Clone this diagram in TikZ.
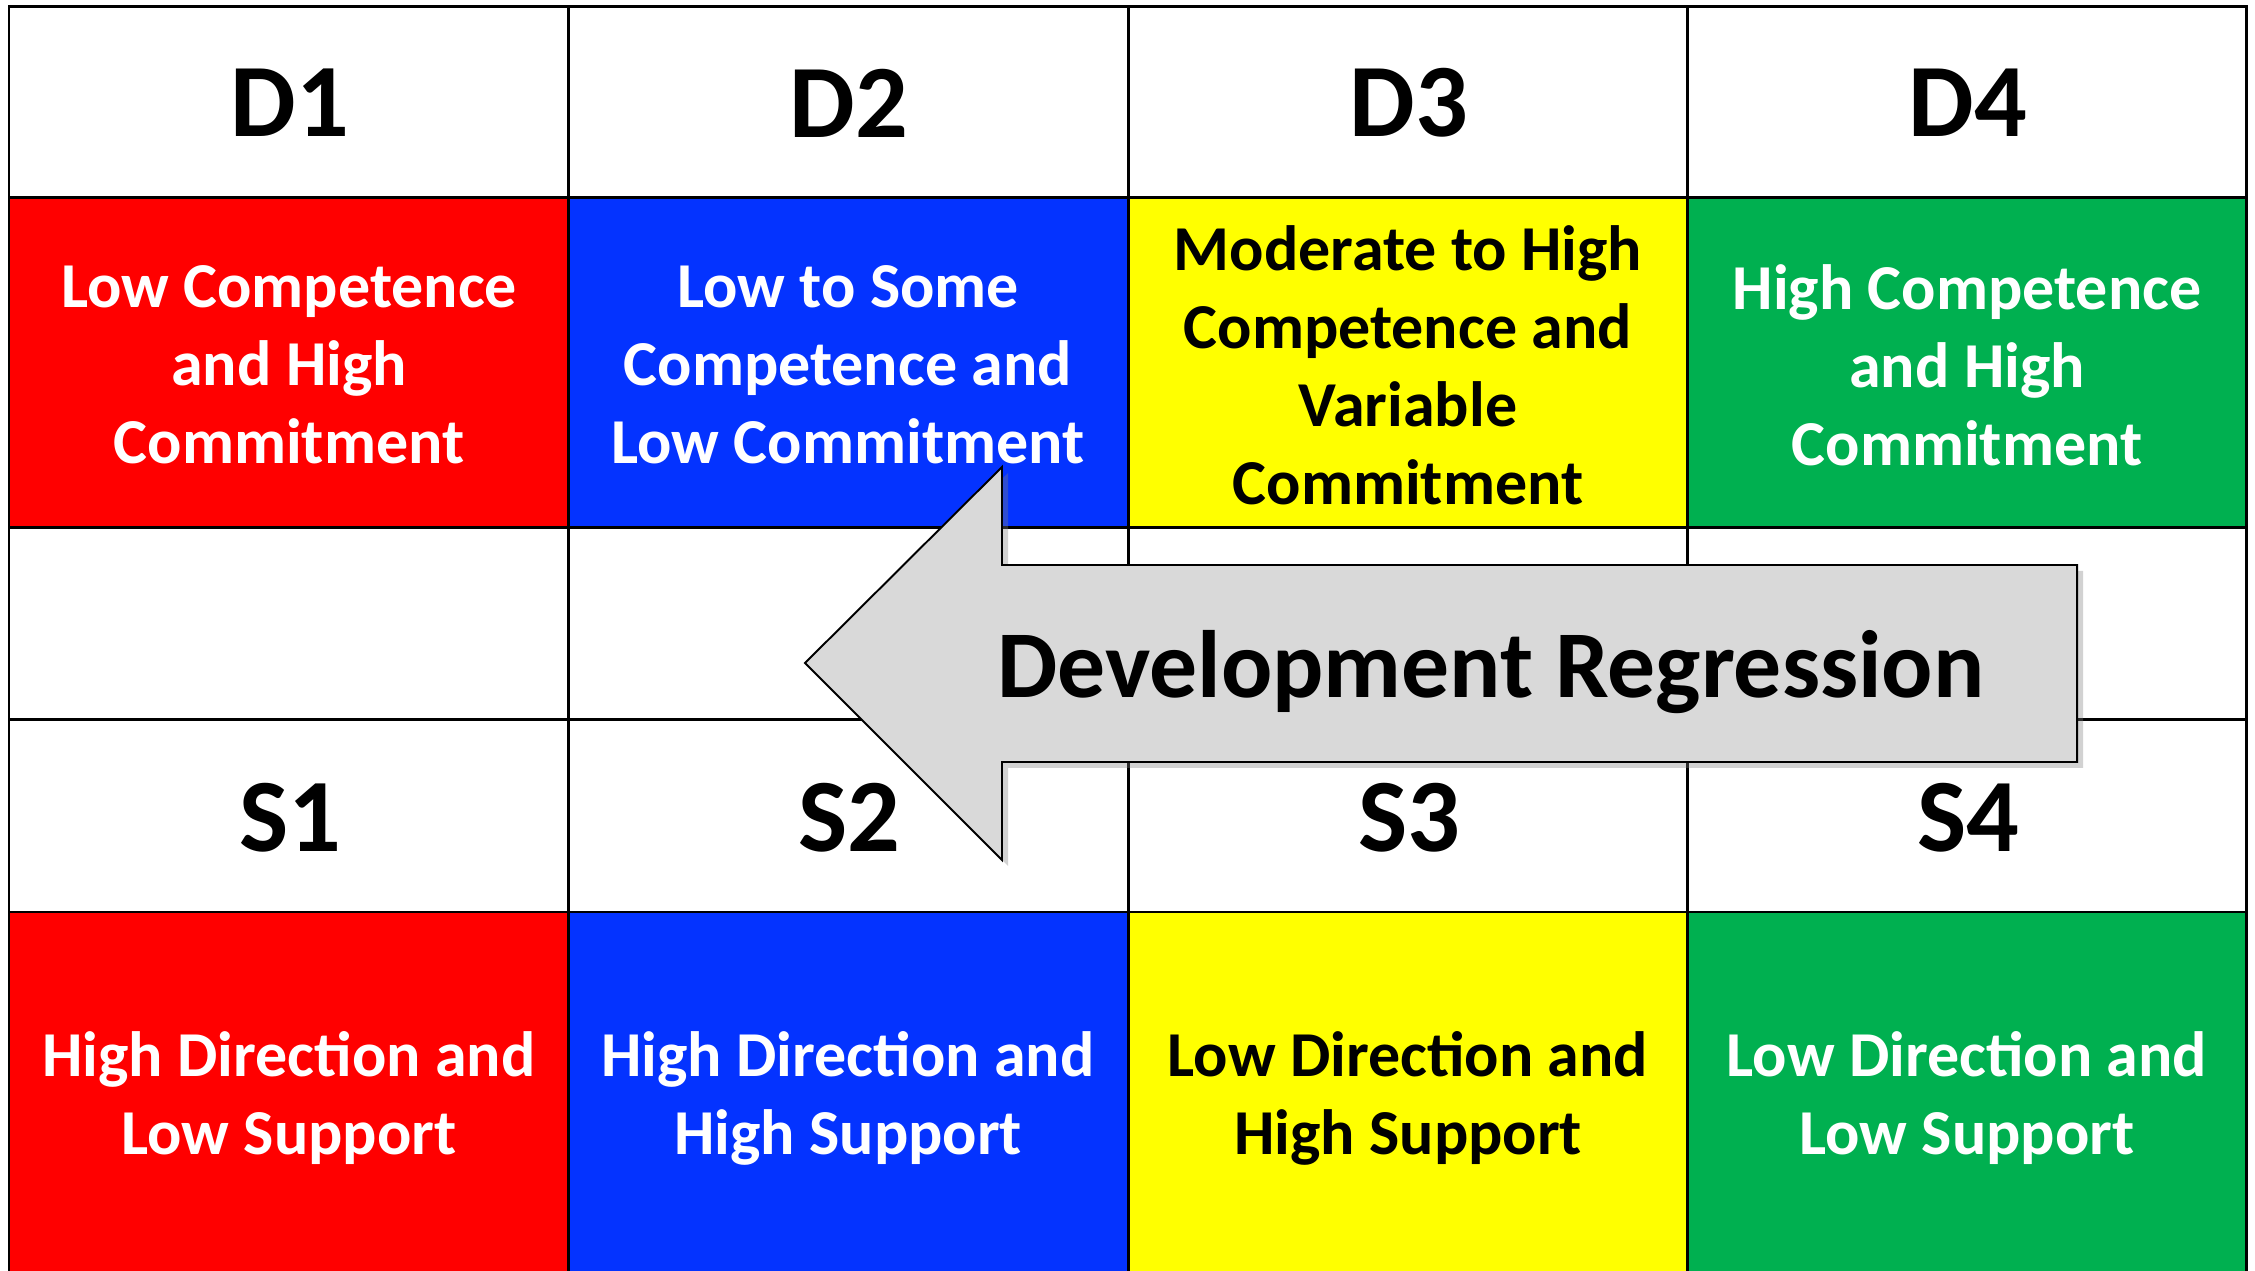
\documentclass[tikz,border=0pt]{standalone}
\usepackage{fontspec}
\setmainfont{Carlito}
\usetikzlibrary{shadows}
\definecolor{cred}{HTML}{FF0000}
\definecolor{cblue}{HTML}{0433FF}
\definecolor{cyellow}{HTML}{FFFF00}
\definecolor{cgreen}{HTML}{00B050}
\definecolor{carrow}{HTML}{D9D9D9}
\tikzset{
  gridline/.style={line width=0.85pt, black},
  bigtxt/.style={font=\bfseries\fontsize{29.6pt}{36pt}\selectfont, text=black, inner sep=0pt},
  celltxt/.style={font=\bfseries\fontsize{18.2pt}{22.2pt}\selectfont, align=center, inner sep=0pt},
  whitetxt/.style={celltxt, text=white},
  blacktxt/.style={celltxt, text=black},
  arrowtxt/.style={font=\bfseries\fontsize{27.2pt}{32pt}\selectfont, text=black, inner sep=0pt},
}
\begin{document}
\begin{tikzpicture}[x=0.01cm,y=-0.01cm]
\useasboundingbox (0,0) rectangle (2255,1271);
\clip (0,0) rectangle (2255,1271);
\fill[white] (0,0) rectangle (2255,1271);
% coloured cells
\fill[cred]    (9,198) rectangle (568,528);
\fill[cblue]   (568,198) rectangle (1128,528);
\fill[cyellow] (1128,198) rectangle (1687,528);
\fill[cgreen]  (1687,198) rectangle (2246,528);
\fill[cred]    (9,912) rectangle (568,1290);
\fill[cblue]   (568,912) rectangle (1128,1290);
\fill[cyellow] (1128,912) rectangle (1687,1290);
\fill[cgreen]  (1687,912) rectangle (2246,1290);
% grid
\draw[gridline] (9,1290) -- (9,7) -- (2246,7) -- (2246,1290);
\foreach \yy in {198,528,720,912} \draw[gridline] (9,\yy) -- (2246,\yy);
\foreach \xx in {568,1128,1687} \draw[gridline] (\xx,7) -- (\xx,1290);
% headers
\node[bigtxt] (d1) at (290,103) {D1};
\node[bigtxt] (d2) at (849,103) {D2};
\node[bigtxt] (d3) at (1409,103) {D3};
\node[bigtxt] (d4) at (1968,103) {D4};
\node[bigtxt] (s1) at (290,818) {S1};
\node[bigtxt] (s2) at (849,818) {S2};
\node[bigtxt] (s3) at (1409,818) {S3};
\node[bigtxt] (s4) at (1968,818) {S4};
% D descriptions
\node[whitetxt] (dd1) at (289,365) {Low Competence\\and High\\Commitment};
\node[whitetxt] (dd2) at (848,365) {Low to Some\\Competence and\\Low Commitment};
\node[blacktxt] (dd3) at (1408,365) {Moderate to High\\Competence and\\Variable\\Commitment};
\node[whitetxt] (dd4) at (1967,365) {High Competence\\and High\\Commitment};
% S descriptions
\node[whitetxt] (ss1) at (289,1098) {High Direction and\\Low Support};
\node[whitetxt] (ss2) at (848,1098) {High Direction and\\High Support};
\node[blacktxt] (ss3) at (1408,1098) {Low Direction and\\High Support};
\node[whitetxt] (ss4) at (1967,1098) {Low Direction and\\Low Support};
% arrow
\coordinate (tip) at (805,663);
\coordinate (ht) at (1002,467);
\coordinate (hb) at (1002,860);
\coordinate (st) at (1002,565);
\coordinate (sb) at (1002,762);
\coordinate (et) at (2077,565);
\coordinate (eb) at (2077,762);
\draw[fill=carrow, line width=0.55pt, line join=miter,
      drop shadow={opacity=0.35, shadow xshift=0.06cm, shadow yshift=-0.06cm}]
  (tip) -- (ht) -- (st) -- (et) -- (eb) -- (sb) -- (hb) -- cycle;
\node[arrowtxt] (arrtxt) at (1491,672) {Development Regression};
\end{tikzpicture}
\end{document}
